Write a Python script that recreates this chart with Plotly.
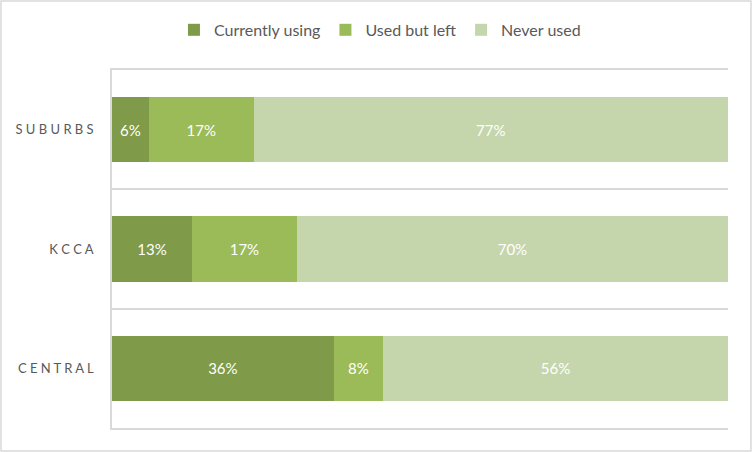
import plotly.graph_objects as go

# Дані з графіка (знизу вгору)
regions = ["CENTRAL", "KCCA", "SUBURBS"]
currently_using = [36, 13, 6]
used_but_left = [8, 17, 17]
never_used = [56, 70, 77]

series = [
    ("Currently using", currently_using, "#7F9A48"),
    ("Used but left", used_but_left, "#9BBB59"),
    ("Never used", never_used, "#C6D6AC"),
]

# розріджені підписи, як у Excel
tick_text = [" ".join(r) for r in regions]

fig = go.Figure()
for name, vals, color in series:
    fig.add_trace(go.Bar(
        y=regions, x=vals, name=name, orientation="h",
        marker=dict(color=color, line=dict(width=0)),
        text=[f"{v}%" for v in vals],
        textposition="inside",
        insidetextanchor="middle",
        textfont=dict(color="white", size=15, family="Lato"),
        hoverinfo="skip",
    ))

fig.update_layout(
    barmode="stack",
    bargap=0.45,
    width=752, height=452,
    margin=dict(l=112, r=24, t=70, b=24),
    paper_bgcolor="white",
    plot_bgcolor="white",
    font=dict(family="Lato", color="#595959"),
    showlegend=True,
    legend=dict(
        orientation="h",
        x=0.435, y=1.112, xanchor="center", yanchor="middle",
        font=dict(size=16, color="#595959"),
        traceorder="normal",
        itemwidth=30,
    ),
    xaxis=dict(
        range=[0, 100], showgrid=False, zeroline=False,
        showticklabels=False,
        showline=True, mirror=True, linecolor="#D9D9D9", linewidth=1.5,
    ),
    yaxis=dict(
        type="category",
        categoryorder="array", categoryarray=regions,
        tickvals=regions, ticktext=tick_text,
        tickson="boundaries",
        showgrid=True, gridcolor="#D9D9D9", gridwidth=1.5,
        showline=True, linecolor="#D9D9D9", linewidth=1.5,
        ticks="", ticklabelstandoff=14,
        tickfont=dict(size=13, color="#595959"),
    ),
    shapes=[dict(
        type="rect", xref="paper", yref="paper",
        x0=-0.1802, x1=1.0373, y0=-0.0642, y1=1.1927,
        line=dict(color="#D9D9D9", width=1.5),
    )],
)

fig.write_html("out.html", config={"displayModeBar": False},
               post_script="document.body.style.margin='0';")
